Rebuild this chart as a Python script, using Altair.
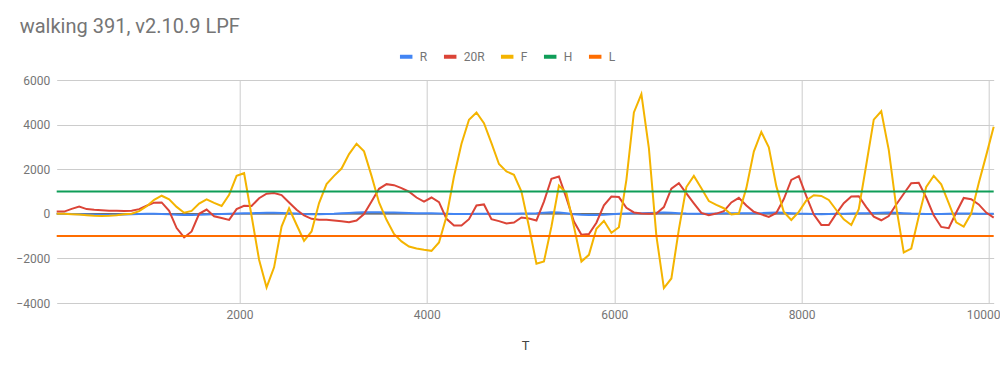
import altair as alt
import pandas as pd

TITLE = "walking 391, v2.10.9 LPF"
SERIES = ["R", "20R", "F", "H", "L"]
COLORS = ["#4285F4", "#DB4437", "#F4B400", "#0F9D58", "#FF6D00"]

T = [50, 130, 210, 290, 370, 450, 530, 610, 690, 770,
     850, 930, 1010, 1090, 1170, 1250, 1330, 1410, 1490, 1570,
     1650, 1730, 1810, 1890, 1970, 2050, 2130, 2210, 2290, 2370,
     2450, 2530, 2610, 2690, 2770, 2850, 2930, 3010, 3090, 3170,
     3250, 3330, 3410, 3490, 3570, 3650, 3730, 3810, 3890, 3970,
     4050, 4130, 4210, 4290, 4370, 4450, 4530, 4610, 4690, 4770,
     4850, 4930, 5010, 5090, 5170, 5250, 5330, 5410, 5490, 5570,
     5650, 5730, 5810, 5890, 5970, 6050, 6130, 6210, 6290, 6370,
     6450, 6530, 6610, 6690, 6770, 6850, 6930, 7010, 7090, 7170,
     7250, 7330, 7410, 7490, 7570, 7650, 7730, 7810, 7890, 7970,
     8050, 8130, 8210, 8290, 8370, 8450, 8530, 8610, 8690, 8770,
     8850, 8930, 9010, 9090, 9170, 9250, 9330, 9410, 9490, 9570,
     9650, 9730, 9810, 9890, 9970, 10050]

R = [0, 0, -10, -20, -30, -40, -50, -50, -40, -30,
     -20, -10, 0, 0, -10, -20, -40, -50,
     -50, -40, -30, -20, -10, 0, 10, 20, 30, 40, 50, 50, 40, 30, 10, -10, -20, -20,
     -10, 0, 20, 40, 60, 70, 70, 70, 60, 60, 50, 40, 30, 20, 20, 10, 0, -10,
     -10, -10, 0, 0, 0, 0, 0, 0, 10, 10, 20, 50, 70, 60, 20, -20, -40, -50,
     -50, -40, -20, 0, 10, 20, 30, 40, 50, 60, 50, 30, 10, 0, 0, 0, 10, 20,
     30, 30, 20, 20, 30, 50, 60, 50, 30, 10, 0, -10, -20, -10, 0, 0, 10, 20,
     30, 40, 50, 60, 50, 30, 10, 0, -10, -10, -10, 0, 10, 10, 10, 0, 0, 0]

R20 = [100, 100, 220, 320, 210, 180, 160, 135, 135, 120,
       135, 210, 360, 500, 510, 135, -640, -1060, -790, 0,
       190, -110, -190, -275, 210, 360, 350, 700, 900, 930,
       840, 510, 180, -75, -225, -270, -270, -300, -330, -375,
       -300, -15, 550, 1120, 1330, 1285, 1150, 990, 730, 550,
       730, 520, -225, -520, -520, -240, 375, 420, -240, -330,
       -435, -390, -165, -210, -300, 550, 1570, 1675, 700, -345,
       -940, -910, -400, 380, 775, 750, 270, 60, 15, 0,
       15, 300, 1130, 1370, 920, 470, 40, -65, 10, 120,
       510, 715, 375, 90, -25, -140, 40, 660, 1520, 1685,
       790, -35, -500, -500, 10, 475, 775, 790, 300, -125,
       -290, -100, 415, 900, 1370, 1390, 730, -70, -590, -645,
       60, 710, 655, 420, 55, -170]

F = [0, 0, -15, -30, -60, -90, -95, -90, -60, -20,
     0, 120, 340, 630, 810, 650, 310, 50, 130, 460,
     650, 490, 350, 850, 1700, 1820, -100, -2060, -3300, -2400,
     -570, 250, -490, -1210, -790, 480, 1330, 1700, 2030, 2680,
     3140, 2800, 1700, 510, -270, -900, -1240, -1465, -1555, -1615,
     -1660, -1285, -120, 1675, 3140, 4215, 4545, 4065, 3170, 2230,
     1900, 1750, 1000, -570, -2240, -2140, -570, 1270, 930, -570,
     -2140, -1840, -670, -315, -850, -600, 1525, 4545, 5370, 2945,
     -990, -3330, -2900, -700, 1200, 1700, 1150, 570, 400, 250,
     -30, 10, 1150, 2790, 3670, 2980, 1240, 80, -275, 85,
     595, 830, 800, 620, 170, -250, -500, 210, 2200, 4220,
     4600, 2865, 300, -1730, -1560, -125, 1210, 1705, 1320, 475,
     -385, -575, 10, 1370, 2620, 3900]

H = [1000] * len(T)
L = [-1000] * len(T)

X_TICKS = [2000, 4000, 6000, 8000, 10000]
Y_TICKS = [-4000, -2000, 0, 2000, 4000, 6000]
BASELINE = [0]

n = len(T)
df = pd.DataFrame({
    "T": T * 5,
    "value": R + R20 + F + H + L,
    "series": ["R"] * n + ["20R"] * n + ["F"] * n + ["H"] * n + ["L"] * n,
})

FONT = "Roboto"
GRAY = "#757575"

xscale = alt.Scale(domain=[T[0], T[-1]], nice=False, zero=False)
yscale = alt.Scale(domain=[Y_TICKS[0], Y_TICKS[-1]], nice=False, zero=False)

xaxis = alt.Axis(values=X_TICKS, format="d", title="T", grid=True, domain=False,
                 ticks=False, labelPadding=6, labelFontSize=12, labelFont=FONT,
                 labelColor=GRAY, labelFlush=10, labelFlushOffset=11,
                 titleFont=FONT, titleFontSize=13,
                 titleFontWeight="normal", titleColor="#444444",
                 titleBaseline="alphabetic", titleY=46)
yaxis = alt.Axis(values=Y_TICKS, format="d", title=None, grid=True, domain=False,
                 ticks=False, labelPadding=7, labelFontSize=12, labelFont=FONT,
                 labelColor=GRAY)

baseline = alt.Chart(pd.DataFrame({"value": BASELINE})).mark_rule(
    color="#333333", strokeWidth=1
).encode(y=alt.Y("value:Q", scale=yscale, axis=yaxis))

lines = alt.Chart(df).mark_line(strokeWidth=2).encode(
    x=alt.X("T:Q", scale=xscale, axis=xaxis),
    y=alt.Y("value:Q", scale=yscale, axis=yaxis),
    color=alt.Color(
        "series:N",
        sort=SERIES,
        scale=alt.Scale(domain=SERIES, range=COLORS),
        legend=alt.Legend(
            orient="none", direction="horizontal", legendX=341, legendY=-32,
            title=None, symbolType="stroke", symbolStrokeWidth=4, symbolSize=156,
            labelFont=FONT, labelFontSize=12, labelColor=GRAY, labelOffset=5,
            columnPadding=8, padding=0,
        ),
    ),
)

title = alt.Chart(pd.DataFrame({"t": [TITLE]})).mark_text(
    align="left", baseline="alphabetic", fontSize=20, font=FONT, color=GRAY
).encode(text="t:N", x=alt.value(-37), y=alt.value(-47))

chart = alt.layer(baseline, lines, title).properties(
    width=937, height=223,
    autosize=alt.AutoSizeParams(type="none"),
    padding={"left": 48.7, "top": 72, "right": 6.3, "bottom": 50},
).configure_view(stroke=None).configure_axis(gridColor="#cccccc", gridWidth=1)

chart.save("out.html", embed_options={"renderer": "svg", "actions": False})
